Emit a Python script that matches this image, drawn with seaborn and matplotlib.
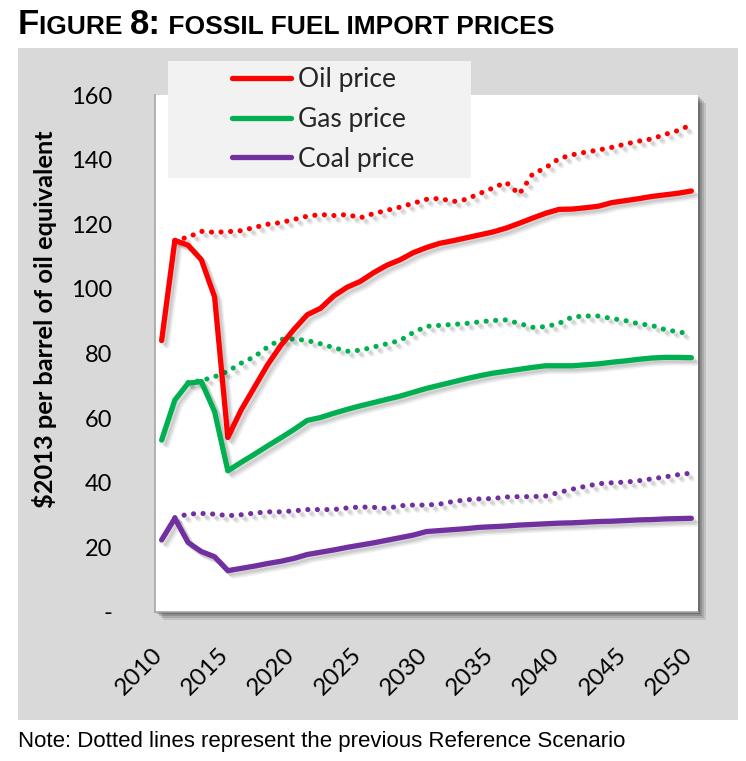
import numpy as np
import pandas as pd
import matplotlib
matplotlib.use("Agg")
import matplotlib.pyplot as plt
import seaborn as sns
from matplotlib import patheffects as pe
from matplotlib.patches import Rectangle
from matplotlib.lines import Line2D
from matplotlib import font_manager as fm
from matplotlib.transforms import ScaledTranslation

# ---------------- data ----------------
years = list(range(2010, 2051))
oil = [84, 115, 113.5, 109, 97.5, 54, 62.5, 69.5, 76.5, 82.5,
       87.5, 92, 94, 97.8, 100.5, 102.3, 105, 107.3, 109, 111.2,
       112.8, 114.1, 114.9, 115.8, 116.7, 117.6, 118.8, 120.3, 121.9, 123.4,
       124.6, 124.7, 125.1, 125.6, 126.7, 127.3, 127.9, 128.6, 129.1, 129.6, 130.3]
gas = [53.2, 65.6, 70.8, 71.3, 62, 43.7, 46.3, 48.8, 51.4, 53.9,
       56.5, 59.3, 60.2, 61.5, 62.7, 63.8, 64.8, 65.8, 66.8, 68,
       69.2, 70.2, 71.2, 72.2, 73.1, 73.9, 74.5, 75.1, 75.7, 76.2,
       76.2, 76.2, 76.5, 76.8, 77.3, 77.7, 78.2, 78.6, 78.8, 78.8, 78.7]
coal = [22.3, 29, 21.5, 18.7, 17.1, 12.8, 13.5, 14.2, 15, 15.7,
        16.6, 17.8, 18.5, 19.2, 20, 20.7, 21.4, 22.2, 23, 23.8,
        24.9, 25.2, 25.5, 25.8, 26.2, 26.4, 26.6, 26.9, 27.1, 27.3,
        27.5, 27.6, 27.8, 28, 28.1, 28.3, 28.5, 28.6, 28.8, 28.9, 29]

oil_prev_years = list(range(2011, 2051))
oil_prev = [115, 116, 117.8, 117.5, 117.7, 118, 119, 120, 120.5,
            121.5, 122.5, 123, 122.7, 123, 122, 123.3, 124.3, 125.3, 126.5,
            127.7, 128, 127, 127.7, 129.5, 131.2, 133, 129.3, 135.5, 137.5,
            140.3, 141.5, 142.3, 143, 143.8, 144.8, 145.7, 146.4, 147.8, 149, 150.8]
gas_prev_years = list(range(2012, 2051))
gas_prev = [71, 71.6, 72.8, 74.5, 77, 79, 82, 84.4,
            84.5, 84, 83, 81.8, 80.7, 81, 82, 83, 84, 86.5,
            88.4, 88.7, 89, 89.3, 89.8, 90.2, 90.4, 89.3, 88.1, 88.3,
            89.3, 91.3, 91.6, 91.6, 90.8, 90.2, 89.2, 88.7, 87.4, 86.7, 86]
coal_prev_years = list(range(2011, 2051))
coal_prev = [29.2, 30.3, 30.5, 30.3, 29.8, 30.1, 30.6, 31, 31,
             31.3, 31.7, 31.7, 31.7, 32.2, 32.5, 32.4, 32, 32.9, 33.1,
             33.1, 33.4, 34.2, 34.7, 35, 35.1, 35.6, 35.7, 35.7, 35.9,
             37, 38, 38.9, 39.7, 40, 40.2, 40.6, 41.2, 41.8, 42.5, 43]

series_names = ["Oil price", "Gas price", "Coal price"]
colors = {"Oil price": "#FF0000", "Gas price": "#00B050", "Coal price": "#7030A0"}
y_ticks = [0, 20, 40, 60, 80, 100, 120, 140, 160]
y_tick_labels = ["-", "20", "40", "60", "80", "100", "120", "140", "160"]
x_ticks = list(range(2010, 2051, 5))

title_parts = [("F", "big"), ("IGURE ", "small"), ("8:", "big"),
               (" FOSSIL FUEL IMPORT PRICES", "small")]
y_label = "$2013 per barrel of oil equivalent"
note = "Note: Dotted lines represent the previous Reference Scenario"

cur = pd.concat([
    pd.DataFrame({"year": years, "price": oil, "fuel": "Oil price"}),
    pd.DataFrame({"year": years, "price": gas, "fuel": "Gas price"}),
    pd.DataFrame({"year": years, "price": coal, "fuel": "Coal price"}),
])
prev = pd.concat([
    pd.DataFrame({"year": oil_prev_years, "price": oil_prev, "fuel": "Oil price"}),
    pd.DataFrame({"year": gas_prev_years, "price": gas_prev, "fuel": "Gas price"}),
    pd.DataFrame({"year": coal_prev_years, "price": coal_prev, "fuel": "Coal price"}),
])

# ---------------- fonts ----------------
sns.set_theme(style="white")
avail = {f.name for f in fm.fontManager.ttflist}
body_font = "Lato" if "Lato" in avail else "DejaVu Sans"
narrow = "Liberation Sans Narrow" if "Liberation Sans Narrow" in avail else "Liberation Sans"
plt.rcParams["font.family"] = [body_font, "DejaVu Sans"]

W, H = 746, 761
fig = plt.figure(figsize=(W / 100, H / 100), dpi=100)
fig.patch.set_facecolor("white")

def px(x, y):
    return x / W, 1 - y / H

# grey panel
fig.patches.append(Rectangle(px(18, 720), 720 / W, 672 / H, transform=fig.transFigure,
                             facecolor="#D9D9D9", edgecolor="none", zorder=0))

# axes
ax_l, ax_t, ax_r, ax_b = 155, 95, 698, 612
ax = fig.add_axes([ax_l / W, 1 - ax_b / H, (ax_r - ax_l) / W, (ax_b - ax_t) / H])
ax.set_zorder(2)
ax.set_facecolor("white")

# plot-area shadow
for i, a in enumerate([0.10, 0.12, 0.16, 0.22]):
    off = 8 - 2 * i
    fig.patches.append(Rectangle(px(ax_l + off, ax_b + off), (ax_r - ax_l) / W, (ax_b - ax_t) / H,
                                 transform=fig.transFigure, facecolor="black",
                                 edgecolor="none", alpha=a, zorder=1))

shadow = [pe.SimpleLineShadow(offset=(4, -4), shadow_color="black", alpha=0.06),
          pe.SimpleLineShadow(offset=(3, -3), shadow_color="black", alpha=0.08),
          pe.SimpleLineShadow(offset=(2, -2), shadow_color="black", alpha=0.08),
          pe.Normal()]

palette = [colors[n] for n in series_names]
sns.lineplot(data=prev, x="year", y="price", hue="fuel", hue_order=series_names,
             palette=palette, ax=ax, legend=False, linewidth=3.7,
             linestyle=(0, (0.01, 1.85)), dash_capstyle="round")
sns.lineplot(data=cur, x="year", y="price", hue="fuel", hue_order=series_names,
             palette=palette, ax=ax, legend=False, linewidth=3.8,
             solid_capstyle="round", solid_joinstyle="round")
for ln in ax.lines:
    ln.set_path_effects(shadow)

ax.set_xlim(2009.5, 2050.5)
ax.set_ylim(0, 160)
ax.set_yticks(y_ticks)
ax.set_yticklabels(y_tick_labels)
ax.set_xticks(x_ticks)
ax.set_xticklabels([str(t) for t in x_ticks])
ax.set_xlabel("")
ax.set_ylabel("")
ax.tick_params(axis="y", length=0, pad=31, labelsize=17, labelcolor="black")
ax.tick_params(axis="x", length=0, pad=23, labelsize=17.5, labelcolor="black")
for lab in ax.get_xticklabels():
    lab.set_rotation(45)
    lab.set_ha("right")
    lab.set_va("top")
    lab.set_transform(lab.get_transform() + ScaledTranslation(5 / 100, 0, fig.dpi_scale_trans))
for s in ["top", "right"]:
    ax.spines[s].set_visible(False)
ax.spines["left"].set_color("#A6A6A6")
ax.spines["left"].set_linewidth(1.2)
ax.spines["bottom"].set_color("#A6A6A6")
ax.spines["bottom"].set_linewidth(1.2)
ax.grid(False)

# legend box
fig.patches.append(Rectangle(px(168, 178), (471 - 168) / W, (178 - 61) / H,
                             transform=fig.transFigure, facecolor="#F2F2F2",
                             edgecolor="none", zorder=3))
handles = [Line2D([0], [0], color=colors[n], lw=3.8, solid_capstyle="round") for n in series_names]
leg = fig.legend(handles, series_names, loc="upper left",
                 bbox_to_anchor=px(232, 67), bbox_transform=fig.transFigure,
                 frameon=False, fontsize=19, handlelength=2.25, handletextpad=0.25,
                 labelspacing=0.56, borderpad=0, borderaxespad=0)
leg.set_zorder(4)

# y label
fig.text(45 / W, 1 - 319 / H, y_label, rotation=90, ha="center", va="center",
         fontsize=18.3, fontweight="bold", color="black")

# note
fig.text(18 / W, 1 - 742 / H, note, ha="left", va="center", fontsize=16,
         family=["Liberation Sans", "DejaVu Sans"], color="black")

# title in small caps
fig.canvas.draw()
renderer = fig.canvas.get_renderer()
x_cur = 18
for txt, kind in title_parts:
    t = fig.text(x_cur / W, 1 - 34 / H, txt, ha="left", va="baseline",
                 fontsize=25 if kind == "big" else 19, fontweight="bold",
                 family=[narrow, "DejaVu Sans"], color="black")
    bb = t.get_window_extent(renderer=renderer)
    x_cur += bb.width

fig.savefig("out.png", dpi=100)
